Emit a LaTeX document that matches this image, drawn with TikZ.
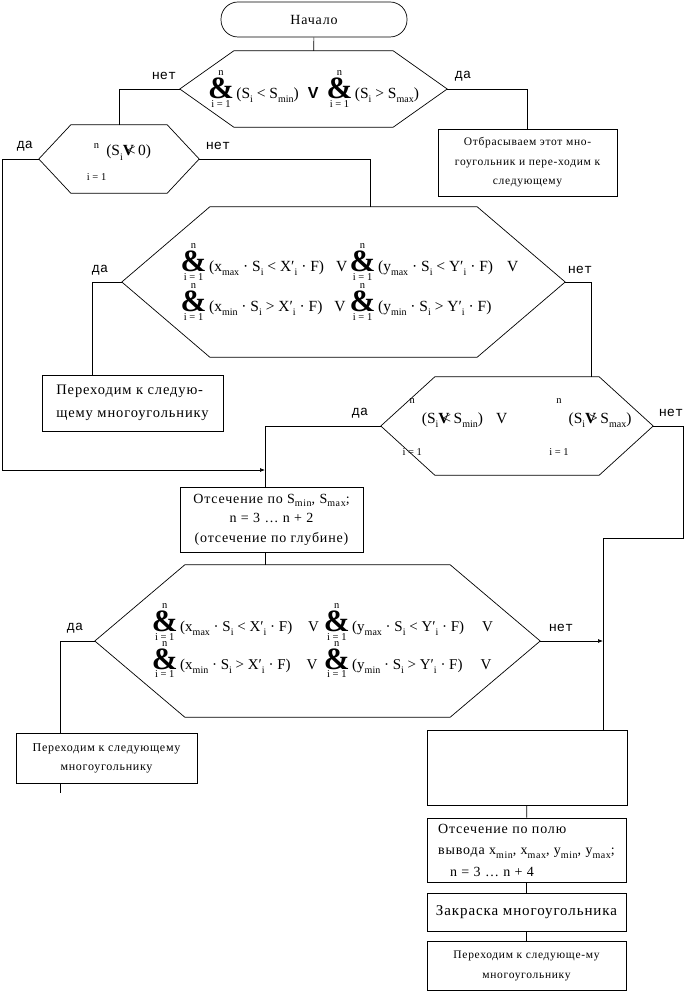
\documentclass[tikz,border=0pt]{standalone}
\usepackage{fontspec}
\setmainfont{Liberation Serif}
\newfontfamily\cyrfont[LetterSpace=6]{Liberation Serif}
\newfontfamily\lblfont{Liberation Mono}
\newfontfamily\orfont{Liberation Sans}
\usetikzlibrary{calc,arrows.meta}
\newcommand\sbs[1]{\raisebox{-0.6ex}{\fontsize{10}{10}\selectfont #1}}
\newcommand\andop[1][\bfseries\&]{$\mathop{\hbox{\fontsize{31}{31}\selectfont #1}}\limits^{\hbox{\fontsize{10.5}{10.5}\selectfont n}}_{\hbox{\fontsize{10.5}{10.5}\selectfont i = 1}}$}
\newcommand\gapop[2]{\andop[\hbox to 12pt{\rule[-#1]{0pt}{\dimexpr#1+#2\relax}\hfil}]}
\newcommand\overV[1]{\makebox[0pt][l]{\bfseries V}\hspace{4pt}#1}
\newcommand\hexframe[2]{\draw[flow] ([xshift=#2]#1.north west) -- ([xshift=-#2]#1.north east) -- (#1.east)
  -- ([xshift=-#2]#1.south east) -- ([xshift=#2]#1.south west) -- (#1.west) -- cycle;}

\begin{document}
\begin{tikzpicture}[x=1pt,y=-1pt]
\tikzset{
    flow/.style={draw, line width=0.7pt},
    into/.style={-{Latex[length=5pt,width=4pt]}},
    term/.style={flow, rounded corners=17pt, minimum width=186pt, minimum height=35pt,
        font=\cyrfont\fontsize{14}{16}\selectfont},
    procbox/.style={flow, inner sep=0pt, align=center},
    condbox/.style={inner sep=0pt, font=\fontsize{15.5}{17}\selectfont},
    yesno/.style={inner sep=0pt, font=\lblfont\fontsize{13.5}{14}\selectfont},
}
\useasboundingbox (0,0) rectangle (698,992);

% start
\node[term] (start) at (314,19.5) {Начало};

% conditions
\node[condbox, minimum width=267pt, minimum height=76pt] (cmm) at (313.5,89)
    {\andop\,(S\sbs{i} < S\sbs{min})\hspace{9pt}{\orfont\bfseries\fontsize{16}{16}\selectfont V}\hspace{8pt}\andop\,(S\sbs{i} > S\sbs{max})};
\hexframe{cmm}{54pt}

\node[condbox, minimum width=160pt, minimum height=68pt] (czero) at (119,159)
    {\raisebox{3pt}[0pt][0pt]{\gapop{16pt}{5pt}(S\sbs{i}\overV{<}\,0)}};
\hexframe{czero}{32pt}

\node[condbox, minimum width=443pt, minimum height=150pt, align=left] (cout) at (343.5,282)
    {\hspace*{12pt}\makebox[169pt][l]{\andop\,(x\sbs{max} · S\sbs{i} < X′\sbs{i} · F)\hspace{12pt}V}%
     \andop\,(y\sbs{max} · S\sbs{i} < Y′\sbs{i} · F)\hspace{14pt}V\\[1pt]
     \hspace*{12pt}\makebox[169pt][l]{\andop\,(x\sbs{min} · S\sbs{i} > X′\sbs{i} · F)\hspace{12pt}V}%
     \andop\,(y\sbs{min} · S\sbs{i} > Y′\sbs{i} · F)};
\hexframe{cout}{88pt}

\node[condbox, minimum width=272pt, minimum height=98pt] (cdepth) at (517,426)
    {\raisebox{3pt}[0pt][0pt]{\gapop{24pt}{18pt}(S\sbs{i}\overV{<}\,S\sbs{min})\hspace{13pt}V\hspace{42pt}\gapop{24pt}{18pt}(S\sbs{i}\overV{>}\,S\sbs{max})}};
\hexframe{cdepth}{54pt}

\node[condbox, minimum width=445pt, minimum height=152pt, align=left, font=\fontsize{15}{17}\selectfont] (cfield) at (317.5,641)
    {\hspace*{10pt}\makebox[172pt][l]{\andop\,(x\sbs{max} · S\sbs{i} < X′\sbs{i} · F)\hspace{16pt}V}%
     \andop\,(y\sbs{max} · S\sbs{i} < Y′\sbs{i} · F)\hspace{18pt}V\\[-2pt]
     \hspace*{10pt}\makebox[172pt][l]{\andop\,(x\sbs{min} · S\sbs{i} > X′\sbs{i} · F)\hspace{16pt}V}%
     \andop\,(y\sbs{min} · S\sbs{i} > Y′\sbs{i} · F)\hspace{18pt}V};
\hexframe{cfield}{90pt}

% actions
\node[procbox, minimum width=179pt, minimum height=67pt, font=\cyrfont\fontsize{11.5}{19.5}\selectfont] (drop) at (527.5,162.5)
    {Отбрасываем этот мно-\\гоугольник и пере-ходим к\\следующему};
\node[procbox, minimum width=181pt, minimum height=56pt, align=left, font=\cyrfont\fontsize{14.5}{23}\selectfont] (skipa) at (132.5,403)
    {Переходим к следую-\\щему многоугольнику};
\node[procbox, minimum width=183pt, minimum height=65pt, font=\cyrfont\fontsize{14}{19.5}\selectfont] (cut) at (271.5,519.5)
    {Отсечение по S\sbs{min}, S\sbs{max};\\n = 3 … n + 2\\(отсечение по глубине)};
\node[procbox, minimum width=181pt, minimum height=50pt, font=\cyrfont\fontsize{12}{19}\selectfont] (skipb) at (106.5,758)
    {Переходим к следующему\\многоугольнику};
\node[procbox, minimum width=200pt, minimum height=75pt] (empty) at (527,767.5) {};
\node[procbox, minimum width=199pt, minimum height=64pt, align=left, font=\cyrfont\fontsize{14}{21.5}\selectfont] (clip) at (526.5,850)
    {Отсечение по полю\\вывода x\sbs{min}, x\sbs{max}, y\sbs{min}, y\sbs{max};\\\hspace{12pt}n = 3 … n + 4};
\node[procbox, minimum width=199pt, minimum height=38pt, font=\cyrfont\fontsize{15}{16}\selectfont] (fill) at (526.5,912)
    {Закраска многоугольника};
\node[procbox, minimum width=199pt, minimum height=49pt, font=\cyrfont\fontsize{11.5}{20}\selectfont] (skipc) at (526.5,965.5)
    {Переходим к следующе-му\\многоугольнику};

% yes / no
\node[yesno] (no1) at (164,76) {нет};
\node[yesno] (yes1) at (463,76) {да};
\node[yesno] (yes2) at (25,146) {да};
\node[yesno] (no2) at (218,146) {нет};
\node[yesno] (yes3) at (100,270) {да};
\node[yesno] (no3) at (580,270) {нет};
\node[yesno] (yes4) at (360,413) {да};
\node[yesno] (no4) at (671,413) {нет};
\node[yesno] (yes5) at (75,628) {да};
\node[yesno] (no5) at (561,628) {нет};

% bends
\coordinate (coutin) at (370,207);
\coordinate (cdepthin) at (591,377);
\coordinate (skipain) at (92,375);
\coordinate (cutin) at (265,487);
\coordinate (join) at (265,470);
\coordinate (lft) at (2,470);
\coordinate (rgt) at (683,538);
\coordinate (emptyin) at (603,730);
\coordinate (skipbin) at (60,733);

% connectors
\draw[flow] (start) -- (cmm);
\draw[flow] (cmm.west) -| (czero.north);
\draw[flow] (cmm.east) -| (drop.north);
\draw[flow, into] (czero.west) -| (lft) -- (join);
\draw[flow] (czero.east) -| (coutin);
\draw[flow] (cout.west) -| (skipain);
\draw[flow] (cout.east) -| (cdepthin);
\draw[flow] (cdepth.west) -| (cutin);
\draw[flow] (cdepth.east) -| (rgt) -| (emptyin);
\draw[flow] (cutin |- cut.south) -- (cutin |- cfield.north);
\draw[flow] (cfield.west) -| (skipbin);
\draw[flow] (skipbin |- skipb.south) -- ++(0,10);
\draw[flow, into] (cfield.east) -- (cfield.east -| emptyin);
\draw[flow] (empty) -- (clip);
\draw[flow] (clip) -- (fill);
\draw[flow] (fill) -- (skipc);

\end{tikzpicture}
\end{document}
